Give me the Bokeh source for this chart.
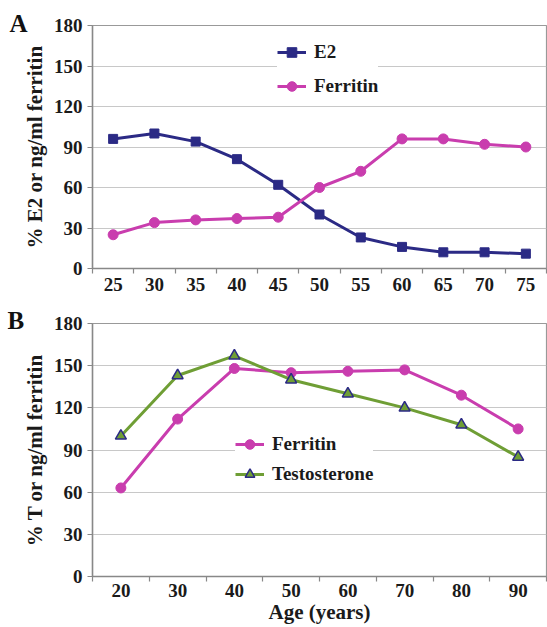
from bokeh.plotting import figure
from bokeh.layouts import column
from bokeh.models import FixedTicker, Legend, LegendItem, Range1d, Title
from bokeh.embed import file_html
from bokeh.resources import INLINE

# ---- data ----
ages_a = [25, 30, 35, 40, 45, 50, 55, 60, 65, 70, 75]
e2_a = [96, 100, 94, 81, 62, 40, 23, 16, 12, 12, 11]
ferritin_a = [25, 34, 36, 37, 38, 60, 72, 96, 96, 92, 90]

ages_b = [20, 30, 40, 50, 60, 70, 80, 90]
ferritin_b = [63, 112, 148, 145, 146, 147, 129, 105]
testosterone_b = [100, 143, 157, 140, 130, 120, 108, 85]

y_ticks = [0, 30, 60, 90, 120, 150, 180]

NAVY = "#2b2a85"
MAGENTA = "#c93dae"
GREEN = "#6f9e35"
FONT = "serif"
TXT = "#1a1a1a"


def style(p, xticks, minor):
    p.xaxis.ticker = FixedTicker(ticks=xticks, minor_ticks=minor)
    p.yaxis.ticker = FixedTicker(ticks=y_ticks, minor_ticks=[])
    p.xgrid.grid_line_color = None
    p.ygrid.grid_line_color = "#c8c8c8"
    p.ygrid.grid_line_width = 1.2
    p.outline_line_color = "#999999"
    p.outline_line_width = 1.2
    for ax in (p.xaxis[0], p.yaxis[0]):
        ax.axis_line_color = "#888888"
        ax.axis_line_width = 1.5
        ax.major_label_text_font = FONT
        ax.major_label_text_font_style = "bold"
        ax.major_label_text_font_size = "19px"
        ax.major_label_text_color = TXT
        ax.axis_label_text_font = FONT
        ax.axis_label_text_font_style = "bold"
        ax.axis_label_text_font_size = "21px"
        ax.axis_label_text_color = TXT
    xa = p.xaxis[0]
    xa.major_tick_line_color = None
    xa.major_tick_out = 5
    xa.major_tick_in = 0
    xa.minor_tick_line_color = "#888888"
    xa.minor_tick_line_width = 1.2
    xa.minor_tick_out = 5
    xa.minor_tick_in = 0
    xa.major_label_standoff = 4
    ya = p.yaxis[0]
    ya.major_tick_line_color = "#888888"
    ya.major_tick_line_width = 1.2
    ya.major_tick_out = 5
    ya.major_tick_in = 0
    ya.minor_tick_line_color = None
    ya.major_label_standoff = 5
    ya.axis_label_standoff = 4


def letter(p, txt, offset, standoff):
    p.add_layout(Title(text=txt, align="left", vertical_align="top",
                       offset=offset, standoff=standoff,
                       text_font=FONT, text_font_style="bold", text_font_size="25px",
                       text_color="#111111"), "above")


def legend(items, loc, padding, spacing):
    return Legend(items=items, location=loc, margin=0, padding=padding, spacing=spacing,
                  glyph_width=29, glyph_height=24, label_height=24, label_standoff=8,
                  border_line_color=None, background_fill_color="white",
                  background_fill_alpha=1, label_text_font=FONT,
                  label_text_font_style="bold", label_text_font_size="19px",
                  label_text_color=TXT)


# ---- panel A ----
pA = figure(width=547, height=298, output_backend="svg", toolbar_location=None,
            x_range=Range1d(22.5, 77.5), y_range=Range1d(0, 180),
            min_border_left=90, min_border_right=1, min_border_top=25, min_border_bottom=30)
style(pA, ages_a, [22.5 + 5 * i for i in range(12)])
pA.yaxis.axis_label = "% E2 or ng/ml ferritin"
letter(pA, "A", -83, -27)

lA1 = pA.line(ages_a, e2_a, line_color=NAVY, line_width=3)
sA1 = pA.scatter(ages_a, e2_a, marker="square", size=9, fill_color=NAVY, line_color=NAVY)
lA2 = pA.line(ages_a, ferritin_a, line_color=MAGENTA, line_width=3)
sA2 = pA.scatter(ages_a, ferritin_a, marker="circle", size=10, fill_color=MAGENTA,
                 line_color=MAGENTA)
pA.add_layout(legend([LegendItem(label="E2", renderers=[lA1, sA1]),
                      LegendItem(label="Ferritin", renderers=[lA2, sA2])],
                     (185, 170), 6, 10))

# ---- panel B ----
pB = figure(width=547, height=329, output_backend="svg", toolbar_location=None,
            x_range=Range1d(15, 95), y_range=Range1d(0, 180),
            min_border_left=92, min_border_right=0, min_border_top=25, min_border_bottom=51)
style(pB, ages_b, [15 + 10 * i for i in range(9)])
pB.yaxis.axis_label = "% T or ng/ml ferritin"
pB.xaxis.axis_label = "Age (years)"
pB.xaxis.major_label_standoff = 2
pB.xaxis.axis_label_standoff = 0
letter(pB, "B", -85, -33)

lB1 = pB.line(ages_b, ferritin_b, line_color=MAGENTA, line_width=3)
sB1 = pB.scatter(ages_b, ferritin_b, marker="circle", size=10, fill_color=MAGENTA,
                 line_color=MAGENTA)
lB2 = pB.line(ages_b, testosterone_b, line_color=GREEN, line_width=3)
sB2 = pB.scatter(ages_b, testosterone_b, marker="triangle", size=11, fill_color=GREEN,
                 line_color=NAVY, line_width=1.5)
pB.add_layout(legend([LegendItem(label="Ferritin", renderers=[lB1, sB1]),
                      LegendItem(label="Testosterone", renderers=[lB2, sB2])],
                     (143, 90), 3, 6))

layout = column(pA, pB, spacing=0)
open("out.html", "w").write(file_html(layout, INLINE))
